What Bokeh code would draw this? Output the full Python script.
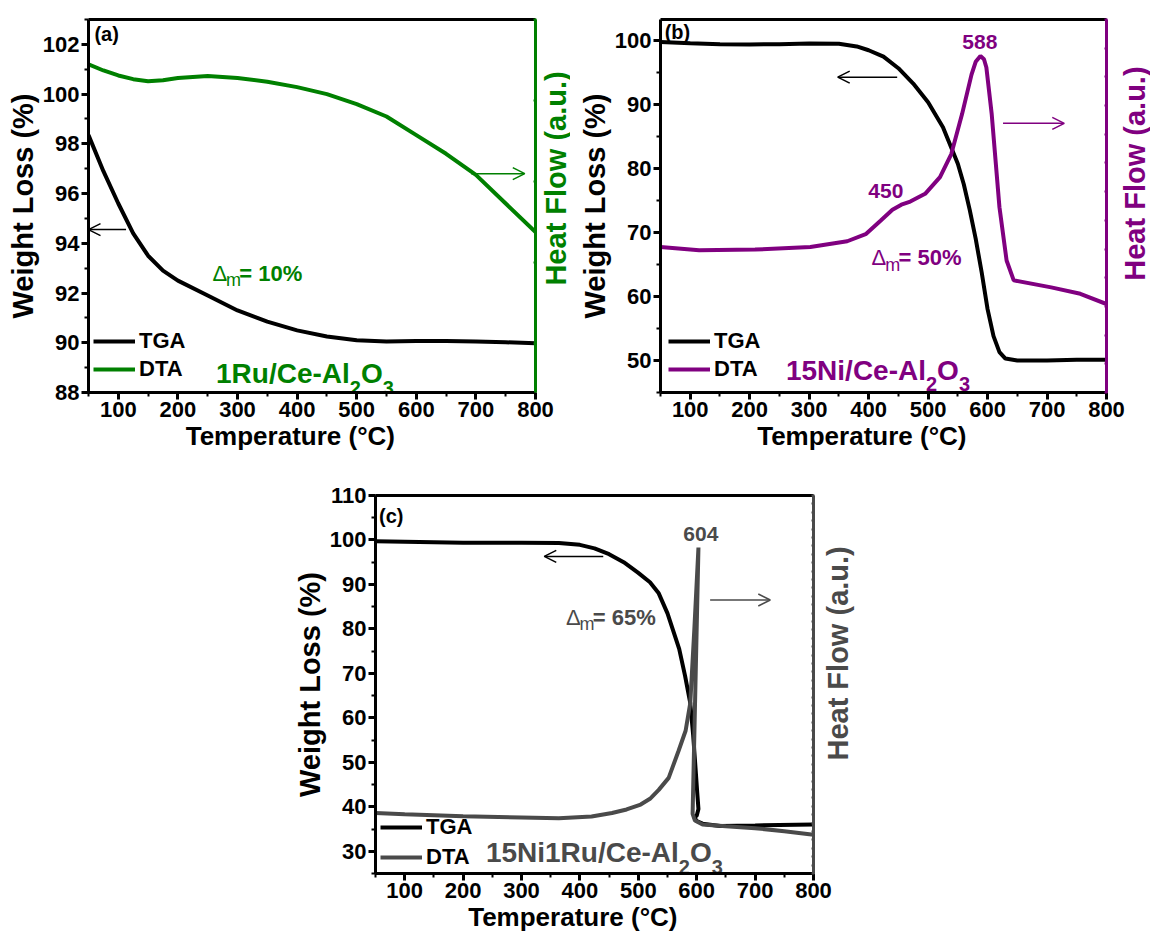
import math
from bokeh.plotting import figure
from bokeh.models import (Range1d, LinearAxis, SingleIntervalTicker, FixedTicker,
                          Legend, LegendItem, Arrow, OpenHead, Spacer)
from bokeh.layouts import row, column
from bokeh.core.properties import value
from bokeh.embed import file_html
from bokeh.resources import INLINE

FONT = "Liberation Sans"
GREEN = "#008000"
PURPLE = "#800080"
GRAY = "#4a4a4a"

# ---------------- data ----------------
# (a) 1Ru/Ce-Al2O3
a_temp = [50, 75, 100, 125, 150, 175, 200, 250, 300, 350, 400, 450, 500, 550, 600, 650, 700, 750, 800]
a_tga = [98.35, 96.9, 95.6, 94.4, 93.5, 92.9, 92.5, 91.9, 91.3, 90.85, 90.5, 90.25, 90.1, 90.05, 90.07, 90.07, 90.05, 90.02, 89.98]
a_dta = [101.2, 100.95, 100.75, 100.6, 100.52, 100.56, 100.65, 100.73, 100.65, 100.5, 100.28, 100.0, 99.6, 99.1, 98.35, 97.6, 96.75, 95.6, 94.45]

# (b) 15Ni/Ce-Al2O3
b_temp_tga = [50, 100, 150, 200, 250, 300, 350, 380, 400, 425, 450, 475, 500, 525, 550, 560, 570, 580, 590, 600, 610, 620, 630, 650, 700, 750, 800]
b_tga = [99.7, 99.5, 99.35, 99.3, 99.35, 99.45, 99.4, 99.0, 98.4, 97.4, 95.6, 93.2, 90.3, 86.4, 80.7, 77.5, 73.5, 69.0, 63.8, 58.0, 53.8, 51.3, 50.3, 50.0, 50.0, 50.1, 50.1]
b_temp_dta = [50, 115, 209, 302, 364, 395, 420, 440, 455, 470, 495, 520, 539, 557, 573, 580, 588, 594, 598, 607, 620, 632, 644, 707, 756, 800]
b_dta = [67.7, 67.2, 67.3, 67.7, 68.6, 69.7, 71.8, 73.5, 74.3, 74.8, 76.0, 78.6, 82.2, 88.4, 94.6, 96.6, 97.5, 97.0, 95.7, 88.4, 73.9, 65.6, 62.5, 61.4, 60.4, 58.8]

# (c) 15Ni1Ru/Ce-Al2O3
c_temp_tga = [50, 100, 200, 300, 364, 400, 425, 450, 475, 500, 520, 535, 550, 560, 570, 580, 589, 594, 598, 601, 603, 600, 596, 600, 610, 640, 700, 800]
c_tga = [99.7, 99.6, 99.4, 99.4, 99.3, 98.9, 98.1, 96.8, 95.0, 92.6, 90.5, 88.0, 83.5, 79.5, 75.5, 69.5, 63.3, 56.0, 48.7, 43.0, 39.5, 38.0, 37.6, 36.8, 36.2, 35.7, 35.8, 36.0]
c_temp_dta = [50, 100, 200, 300, 364, 420, 455, 480, 504, 520, 535, 552, 569, 581, 589, 596, 603, 593, 597, 610, 650, 700, 750, 800]
c_dta = [38.6, 38.3, 37.9, 37.6, 37.4, 37.8, 38.6, 39.4, 40.5, 41.8, 43.8, 46.5, 52.6, 57.1, 63.3, 80.0, 98.3, 38.4, 36.9, 36.0, 35.6, 35.2, 34.5, 33.7]

x_label = "Temperature (°C)"
y_label = "Weight Loss (%)"
r_label = "Heat Flow (a.u.)"
series_names = ["TGA", "DTA"]

# Arial/Liberation Sans Bold advance widths (em)
AB = {'0': .556, '1': .556, '2': .556, '3': .556, '4': .556, '5': .556, '6': .556,
      '7': .556, '8': .556, '9': .556, 'R': .722, 'u': .611, '/': .278, 'C': .722,
      'e': .556, '-': .333, 'A': .722, 'l': .278, 'O': .778, 'N': .722, 'i': .278,
      '=': .584, ' ': .278, '%': .889, 'm': .889}


def tw(s, fs):
    return sum(AB.get(ch, 0.556) for ch in s) * fs


def style_axis(ax, label_size):
    ax.axis_line_width = 3
    ax.axis_line_color = "black"
    ax.major_tick_line_width = 3
    ax.minor_tick_line_width = 2
    ax.major_tick_out = 7
    ax.major_tick_in = 0
    ax.minor_tick_out = 4
    ax.minor_tick_in = 0
    ax.major_label_text_font = FONT
    ax.major_label_text_font_style = "bold"
    ax.major_label_text_font_size = "22px"
    ax.major_label_text_color = "black"
    ax.major_label_standoff = 2
    ax.axis_label_text_font = FONT
    ax.axis_label_text_font_style = "bold"
    ax.axis_label_text_font_size = label_size
    ax.axis_label_text_color = "black"
    ax.axis_label_standoff = 1


def make_panel(width, height, borders, yr, yint, hf, hf_color):
    l, r, t, b = borders
    p = figure(width=width, height=height, x_range=Range1d(50, 800), y_range=Range1d(*yr),
               output_backend="svg", toolbar_location=None,
               min_border_left=l, min_border_right=r, min_border_top=t, min_border_bottom=b,
               x_axis_label=x_label + "\u00a0" * 6, y_axis_label=y_label)
    p.grid.visible = False
    p.outline_line_color = None
    p.background_fill_color = "white"
    p.border_fill_color = "white"
    style_axis(p.xaxis[0], "26px")
    style_axis(p.yaxis[0], "29px")
    p.xaxis[0].ticker = SingleIntervalTicker(interval=100, num_minor_ticks=2)
    p.yaxis[0].ticker = SingleIntervalTicker(interval=yint, num_minor_ticks=2)
    top = LinearAxis(ticker=FixedTicker(ticks=[], minor_ticks=[]), axis_line_width=3,
                     axis_line_color="black", major_label_text_font_size="0px",
                     major_label_text_color=None,
                     major_tick_line_color=None, minor_tick_line_color=None)
    p.add_layout(top, "above")
    # right-hand heat-flow axis (unlabelled ticks)
    p.extra_y_ranges = {"hf": Range1d(*hf)}
    rax = LinearAxis(y_range_name="hf", ticker=SingleIntervalTicker(interval=1, num_minor_ticks=0))
    rax.axis_line_color = hf_color
    rax.axis_line_width = 3
    rax.major_tick_line_color = hf_color
    rax.major_tick_line_width = 2
    rax.major_tick_in = 2
    rax.major_tick_out = 1
    rax.minor_tick_line_color = None
    rax.major_label_text_font_size = "0px"
    rax.major_label_text_color = None
    rax.major_label_standoff = 0
    p.add_layout(rax, "right")
    return p


def side_label(width, height, overlap, cx, cy, color):
    """Transparent strip holding the right-hand axis title (reads bottom-to-top);
    it slides back over the panel's right margin so the '800' label stays visible."""
    f = figure(width=width, height=height, x_range=Range1d(0, width), y_range=Range1d(0, height),
               output_backend="svg", toolbar_location=None, min_border=0,
               x_axis_location=None, y_axis_location=None, margin=(0, 0, 0, -overlap))
    f.grid.visible = False
    f.outline_line_color = None
    f.background_fill_color = None
    f.border_fill_color = None
    f.text(x=[cx], y=[cy], text=[r_label], angle=90, angle_units="deg",
           text_align="center", text_baseline="middle", text_color=color,
           text_font=value(FONT), text_font_style="bold", text_font_size="29px")
    return f


def txt(p, x, y, s, color, size, bold=True, align="left", baseline="alphabetic", xo=0, yo=0):
    p.text(x=[x], y=[y], text=[s], text_color=color, text_font=value(FONT),
           text_font_size=f"{size}px", text_font_style="bold" if bold else "normal",
           text_align=align, text_baseline=baseline, x_offset=xo, y_offset=yo)


def formula(p, x, y, parts, color, size):
    off = 0.0
    for s, sub in parts:
        fs = round(size * 0.7) if sub else size
        txt(p, x, y, s, color, fs, xo=off, yo=(0.5 * size if sub else 0))
        off += tw(s, fs)


def delta(p, x, y, s, color, size):
    txt(p, x, y, "Δ", color, size, bold=False)
    txt(p, x, y, "m", color, round(size * 0.8), bold=False, xo=0.62 * size, yo=0.3 * size)
    txt(p, x, y, s, color, size, xo=1.22 * size)


def arrow(p, x0, x1, y, color):
    p.add_layout(Arrow(end=OpenHead(size=12, line_width=1.5, line_color=color),
                       x_start=x0, y_start=y, x_end=x1, y_end=y,
                       line_width=1.5, line_color=color))


def legend(p, r1, r2, loc, spacing):
    lg = Legend(items=[LegendItem(label=series_names[0], renderers=[r1]),
                       LegendItem(label=series_names[1], renderers=[r2])],
                location=loc, orientation="vertical")
    lg.label_text_font = FONT
    lg.label_text_font_style = "bold"
    lg.label_text_font_size = "22px"
    lg.label_text_color = "black"
    lg.glyph_width = 42
    lg.glyph_height = 22
    lg.label_height = 22
    lg.label_standoff = 4
    lg.spacing = spacing
    lg.padding = 0
    lg.margin = 0
    lg.border_line_alpha = 0
    lg.background_fill_alpha = 0
    p.add_layout(lg)


# ---------------- panel (a) ----------------
pa = make_panel(556, 460, (88, 21, 19, 68), (88, 103), 2, (-0.6, 4.0), GREEN)
ra1 = pa.line(a_temp, a_tga, line_color="black", line_width=4)
ra2 = pa.line(a_temp, a_dta, line_color=GREEN, line_width=4)
legend(pa, ra1, ra2, (5, 10), 2)
txt(pa, 60, 102.4, "(a)", "black", 20, baseline="middle")
delta(pa, 258, 92.8, "= 10%", GREEN, 22)
formula(pa, 264, 88.76, [("1Ru/Ce-Al", False), ("2", True), ("O", False), ("3", True)], GREEN, 28)
arrow(pa, 113, 50, 94.55, "black")
arrow(pa, 692, 782, 96.8, GREEN)
la = side_label(32, 460, 18, 17, 264, GREEN)

# ---------------- panel (b) ----------------
pb = make_panel(560, 460, (90, 24, 19, 68), (45, 103.2), 10, (0, 13), PURPLE)
rb1 = pb.line(b_temp_tga, b_tga, line_color="black", line_width=4)
rb2 = pb.line(b_temp_dta, b_dta, line_color=PURPLE, line_width=4)
legend(pb, rb1, rb2, (8, 10), 2)
txt(pb, 57, 101.3, "(b)", "black", 20, baseline="middle")
txt(pb, 587, 99.7, "588", PURPLE, 21, align="center", baseline="middle")
txt(pb, 429, 76.5, "450", PURPLE, 21, align="center", baseline="middle")
delta(pb, 405, 66.0, "= 50%", PURPLE, 22)
formula(pb, 261, 48.44, [("15Ni/Ce-Al", False), ("2", True), ("O", False), ("3", True)], PURPLE, 28)
arrow(pb, 448, 348, 94.2, "black")
arrow(pb, 626, 729, 87.0, PURPLE)
lb = side_label(38, 460, 18, 22, 270, PURPLE)

# ---------------- panel (c) ----------------
pc = make_panel(546, 474, (84, 23, 35, 61), (25, 110), 10, (0, 45), GRAY)
rc1 = pc.line(c_temp_tga, c_tga, line_color="black", line_width=4)
rc2 = pc.line(c_temp_dta, c_dta, line_color=GRAY, line_width=4)
legend(pc, rc1, rc2, (5, 3), 4)
txt(pc, 56, 105.3, "(c)", "black", 20, baseline="middle")
txt(pc, 607, 101.4, "604", GRAY, 21, align="center", baseline="middle")
delta(pc, 376, 82.5, "= 65%", GRAY, 22)
formula(pc, 239, 29.7, [("15Ni1Ru/Ce-Al", False), ("2", True), ("O", False), ("3", True)], GRAY, 28)
arrow(pc, 440, 339, 96.3, "black")
arrow(pc, 623, 726, 86.5, GRAY)
lc = side_label(42, 474, 18, 19.5, 276, GRAY)

page = column(row(pa, la, pb, lb), row(Spacer(width=290, height=10), pc, lc))

open("out.html", "w").write(file_html(page, INLINE))
